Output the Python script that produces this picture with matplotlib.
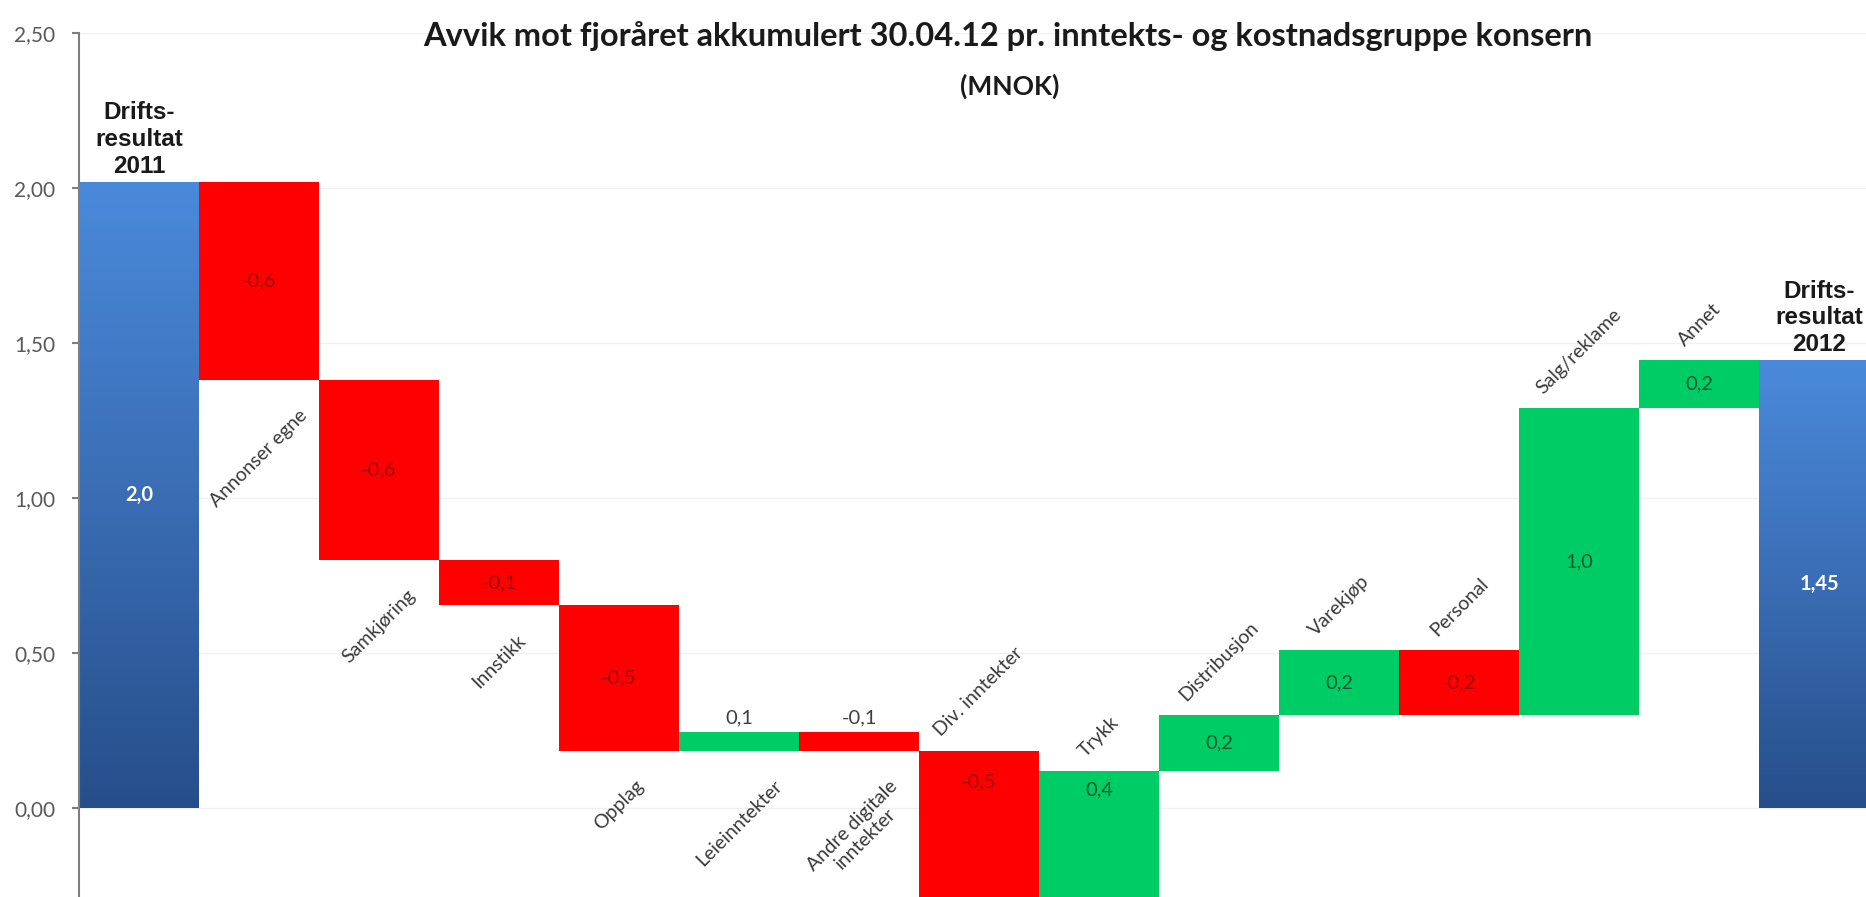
import numpy as np
import matplotlib
matplotlib.use("Agg")
import matplotlib.pyplot as plt
from matplotlib.colors import LinearSegmentedColormap

# waterfall: start value, changes per group, end value
categories = ["Drifts-\nresultat\n2011", "Annonser egne", "Samkjøring", "Innstikk",
              "Opplag", "Leieinntekter", "Andre digitale\ninntekter", "Div. inntekter",
              "Trykk", "Distribusjon", "Varekjøp", "Personal", "Salg/reklame",
              "Annet", "Drifts-\nresultat\n2012"]
start_value = 2.02
changes = [-0.64, -0.58, -0.145, -0.47, 0.06, -0.06, -0.48, 0.415,
           0.18, 0.21, -0.21, 0.99, 0.155]
end_value = 1.445
value_labels = ["2,0", "-0,6", "-0,6", "-0,1", "-0,5", "0,1", "-0,1", "-0,5",
                "0,4", "0,2", "0,2", "-0,2", "1,0", "0,2", "1,45"]
yticks = [0.0, 0.5, 1.0, 1.5, 2.0, 2.5]
ytick_labels = ["0,00", "0,50", "1,00", "1,50", "2,00", "2,50"]

RED = "#FF0000"
GREEN = "#00CC66"
FONT = ["Lato", "DejaVu Sans"]

plt.rcParams["font.family"] = FONT

fig = plt.figure(figsize=(18.66, 8.97), dpi=100)
ax = fig.add_axes([79 / 1866, 0, 1 - 79 / 1866, 1 - 33 / 897])

blue_cmap = LinearSegmentedColormap.from_list("blu", ["#264E8A", "#3A6DB4", "#4A8ADB"])


def gradient_bar(x, h):
    patch = ax.bar(x, h, 1.0, color="none", edgecolor="none", zorder=2)[0]
    grad = np.linspace(0, 1, 256).reshape(-1, 1)
    im = ax.imshow(grad, extent=(x - 0.5, x + 0.5, 0, h), origin="lower",
                   aspect="auto", cmap=blue_cmap, zorder=2)
    im.set_clip_path(patch)


# start / end bars
gradient_bar(0, start_value)
gradient_bar(len(categories) - 1, end_value)

# change bars
level = start_value
tops = [start_value]
bottoms = [0.0]
for i, c in enumerate(changes, start=1):
    new = level + c
    lo, hi = min(level, new), max(level, new)
    ax.bar(i, hi - lo, 1.0, bottom=lo, color=GREEN if c > 0 else RED,
           edgecolor="none", zorder=2)
    tops.append(hi)
    bottoms.append(lo)
    level = new
tops.append(end_value)
bottoms.append(0.0)

ax.set_xlim(-0.5, -0.5 + 1787 / 120)
ax.set_ylim(-0.287, 2.5)

# value labels
label_above = {5, 6}
label_y_override = {7: 0.085, 8: 0.06}
for i, txt in enumerate(value_labels):
    if i in (0, len(categories) - 1):
        ax.text(i, (tops[i] + bottoms[i]) / 2, txt, ha="center", va="center",
                color="white", fontsize=14.5, fontweight="bold", zorder=4)
    elif i in label_above:
        ax.annotate(txt, (i, tops[i]), xytext=(0, 4), textcoords="offset points",
                    ha="center", va="bottom", color="#404040", fontsize=14.5, zorder=4)
    else:
        y = label_y_override.get(i, (tops[i] + bottoms[i]) / 2)
        col = "#0B5A2C" if changes[i - 1] > 0 else "#A00000"
        ax.text(i, y, txt, ha="center", va="center", color=col, fontsize=14.5, zorder=4)

# category labels
for i, name in enumerate(categories):
    if i in (0, len(categories) - 1):
        ax.annotate(name, (i, tops[i]), xytext=(0, 3), textcoords="offset points",
                    ha="center", va="bottom", fontsize=17.5, fontweight="bold",
                    family=["Liberation Sans", "DejaVu Sans"], linespacing=1.2,
                    color="#1a1a1a", zorder=4)
    elif i <= 6:
        ax.annotate(name, (i, bottoms[i]), xytext=(0, -19), textcoords="offset points",
                    ha="center", va="top", rotation=45, fontsize=14,
                    multialignment="center", linespacing=1.15, color="#3a3a3a", zorder=4)
    else:
        ax.annotate(name, (i, tops[i]), xytext=(0, 8), textcoords="offset points",
                    ha="center", va="bottom", rotation=45, fontsize=14,
                    color="#3a3a3a", zorder=4)

# axes styling
for s in ("top", "right", "bottom"):
    ax.spines[s].set_visible(False)
ax.spines["left"].set_color("#7f7f7f")
ax.spines["left"].set_linewidth(1.5)
ax.set_xticks([])
ax.set_yticks(yticks)
ax.set_yticklabels(ytick_labels)
ax.tick_params(axis="y", length=5, width=1.5, color="#7f7f7f", pad=12,
               labelsize=15, labelcolor="#595959")
ax.grid(axis="y", color="#f0f0f0", linewidth=1, zorder=0)
ax.set_axisbelow(True)

fig.text(0.540, 0.960, "Avvik mot fjoråret akkumulert 30.04.12 pr. inntekts- og kostnadsgruppe konsern",
         ha="center", va="center", fontsize=23.5, fontweight="bold", color="#1a1a1a")
fig.text(0.541, 0.904, "(MNOK)", ha="center", va="center", fontsize=19,
         fontweight="bold", color="#1a1a1a")

fig.savefig("out.png", dpi=100)
